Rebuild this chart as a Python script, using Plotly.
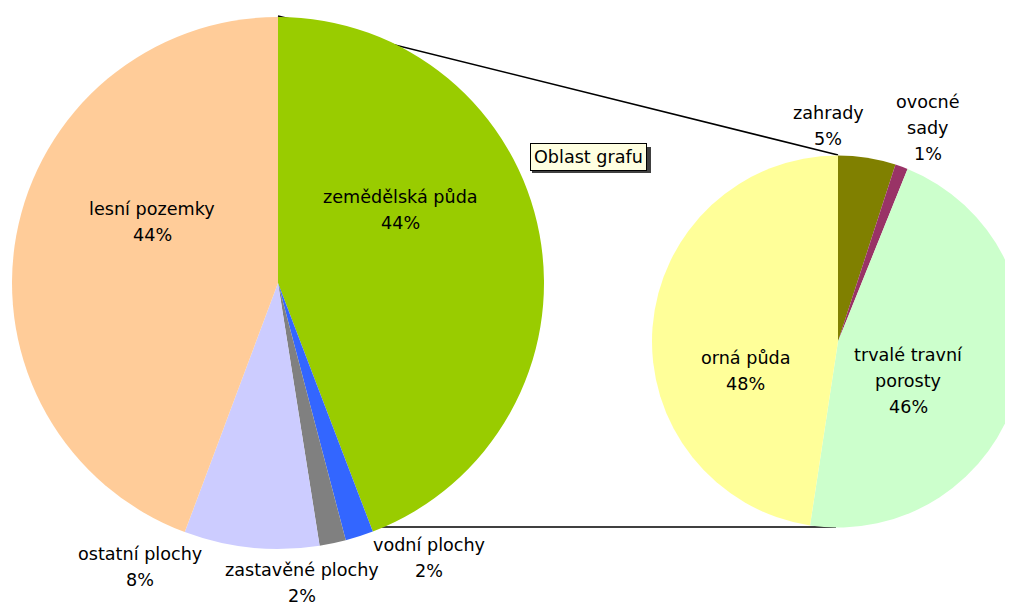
import plotly.graph_objects as go

W, H = 1016, 606
OFF = 8  # page body margin: figure is drawn 8 px from the window's top-left corner

# Primary pie (clockwise from 12 o'clock)
main_labels = ["zemědělská půda", "vodní plochy", "zastavěné plochy", "ostatní plochy", "lesní pozemky"]
main_values = [44.2, 1.7, 1.6, 8.2, 44.3]
main_colors = ["#99CC00", "#3366FF", "#808080", "#CCCCFF", "#FFCC99"]

# Secondary pie (breakdown of zemědělská půda)
sub_labels = ["zahrady", "ovocné sady", "trvalé travní porosty", "orná půda"]
sub_values = [5.0, 1.1, 46.3, 47.6]
sub_colors = ["#808000", "#993366", "#CCFFCC", "#FFFF99"]

# label lines as wrapped in the reference, and label centres (window pixels)
main_lines = [["zemědělská půda"], ["vodní plochy"], ["zastavěné plochy"], ["ostatní plochy"], ["lesní pozemky"]]
main_pos = [(400, 210), (429, 558), (302, 583), (140, 567), (152, 222)]
sub_lines = [["zahrady"], ["ovocné", "sady"], ["trvalé travní", "porosty"], ["orná půda"]]
sub_pos = [(828, 126), (928, 128), (908, 381), (745, 371)]
LINE_GAP = 26


def px(x, y):
    return (x - OFF) / W, 1 - (y - OFF) / H


def pct(v, tot):
    return f"{round(100 * v / tot):.0f}%"


FONT = dict(family="DejaVu Sans", size=17.6, color="#000000")

fig = go.Figure()
fig.add_trace(go.Pie(
    labels=main_labels, values=main_values, sort=False, direction="clockwise", rotation=0,
    marker=dict(colors=main_colors, line=dict(width=0)), textinfo="none", hoverinfo="label+percent",
    domain=dict(x=[(12 - OFF) / W, (544 - OFF) / W], y=[1 - (549 - OFF) / H, 1 - (17 - OFF) / H]),
    showlegend=False,
))
fig.add_trace(go.Pie(
    labels=sub_labels, values=sub_values, sort=False, direction="clockwise", rotation=0,
    marker=dict(colors=sub_colors, line=dict(width=0)), textinfo="none", hoverinfo="label+percent",
    domain=dict(x=[(652 - OFF) / W, 1.0], y=[1 - (528 - OFF) / H, 1 - (155 - OFF) / H]),
    showlegend=False,
))

annotations = []


def add_label(lines, value, total, pos):
    rows = lines + [pct(value, total)]
    n = len(rows)
    cx, cy = pos
    for i, r in enumerate(rows):
        yy = cy + (i - (n - 1) / 2) * LINE_GAP
        ax, ay = px(cx, yy)
        annotations.append(dict(x=ax, y=ay, xref="paper", yref="paper", text=r, showarrow=False,
                                font=FONT, xanchor="center", yanchor="middle"))


mt = sum(main_values)
for ln, v, p in zip(main_lines, main_values, main_pos):
    add_label(ln, v, mt, p)
st = sum(sub_values)
for ln, v, p in zip(sub_lines, sub_values, sub_pos):
    add_label(ln, v, st, p)

# "Oblast grafu" tooltip box with shadow
bx, by = px(588, 157)
annotations.append(dict(x=bx, y=by, xref="paper", yref="paper", text="Oblast grafu", showarrow=False,
                        font=FONT, bgcolor="#FFFFE1", bordercolor="#000000", borderwidth=1, borderpad=3,
                        xanchor="center", yanchor="middle"))
sx0, sy0 = px(532, 147)
sx1, sy1 = px(651, 173)

x0, y0 = px(278, 16)
x1, y1 = px(838, 155)
x2, y2 = px(374, 527)
x3, y3 = px(836, 527)
shapes = [
    dict(type="line", xref="paper", yref="paper", x0=x0, y0=y0, x1=x1, y1=y1,
         line=dict(color="#000000", width=1.5), layer="below"),
    dict(type="line", xref="paper", yref="paper", x0=x2, y0=y2, x1=x3, y1=y3,
         line=dict(color="#000000", width=1.5), layer="below"),
    dict(type="rect", xref="paper", yref="paper", x0=sx0, y0=sy0, x1=sx1, y1=sy1,
         fillcolor="#404040", line=dict(width=0)),
]

fig.update_layout(
    width=W, height=H, margin=dict(l=0, r=0, t=0, b=0),
    paper_bgcolor="#FFFFFF", plot_bgcolor="#FFFFFF",
    annotations=annotations, shapes=shapes,
)
fig.write_html("out.html")
